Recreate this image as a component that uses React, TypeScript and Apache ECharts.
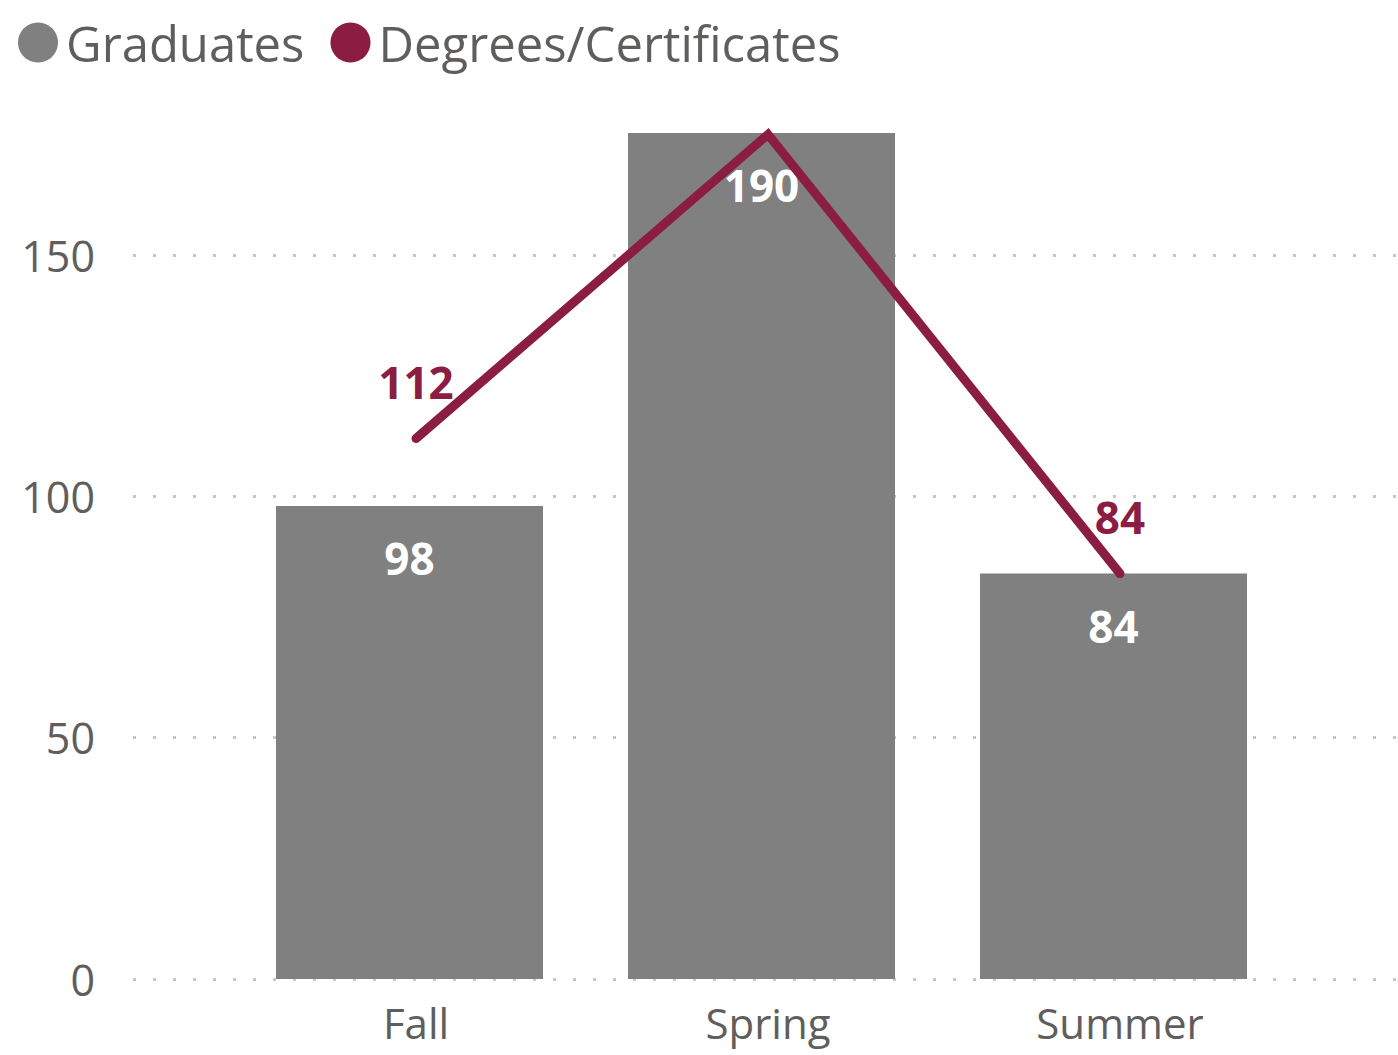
import React, { useEffect, useRef } from "react";
import * as echarts from "echarts";

const categories = ["Fall", "Spring", "Summer"];
const graduates = [98, 190, 84];
const degrees = [112, 175, 84];
const hiddenLineLabels = [false, true, false];
const yMax = 175.3;
const yInterval = 50;

const GREY = "#808080";
const MAROON = "#8A1D41";
const TEXT = "#605E5C";
const FONT = "'Segoe UI', 'Open Sans', sans-serif";

export default function App() {
  const ref = useRef<HTMLDivElement>(null);
  useEffect(() => {
    if (!ref.current) return;
    const chart = echarts.init(ref.current, undefined, { renderer: "svg" });
    const yBase = { min: 0, max: yMax, interval: yInterval };
    chart.setOption({
      animation: false,
      backgroundColor: "#ffffff",
      textStyle: { fontFamily: FONT },
      legend: {
        left: 13,
        top: 13,
        icon: "circle",
        itemWidth: 40,
        itemHeight: 40,
        itemGap: 26,
        textStyle: { fontSize: 49, color: TEXT, fontFamily: FONT, padding: [0, 0, 0, 3] },
        data: [
          { name: "Graduates", itemStyle: { color: GREY } },
          { name: "Degrees/Certificates", itemStyle: { color: MAROON } },
        ],
      },
      grid: [
        { left: 133, right: 0, top: 133, bottom: 76 },
        { left: 233.5, right: 108.5, top: 133, bottom: 76 },
        { left: 240, right: 102, top: 133, bottom: 76 },
      ],
      xAxis: [
        { type: "category", gridIndex: 0, data: categories, show: false },
        { type: "category", gridIndex: 1, data: categories, show: false },
        {
          type: "category",
          gridIndex: 2,
          data: categories,
          axisLine: { show: false },
          axisTick: { show: false },
          axisLabel: { fontSize: 42, color: TEXT, fontFamily: FONT, margin: 22 },
        },
      ],
      yAxis: [
        {
          type: "value",
          gridIndex: 0,
          ...yBase,
          axisLine: { show: false },
          axisTick: { show: false },
          axisLabel: {
            fontSize: 43,
            color: TEXT,
            fontFamily: FONT,
            margin: 38,
            showMaxLabel: false,
            padding: [0, 0, 6, 0],
          },
          splitLine: {
            show: true,
            showMaxLine: false,
            lineStyle: { color: "#c8c8c8", width: 3, type: [3, 17] },
          },
        },
        { type: "value", gridIndex: 1, ...yBase, show: false, splitLine: { show: false } },
        { type: "value", gridIndex: 2, ...yBase, show: false, splitLine: { show: false } },
      ],
      series: [
        {
          name: "Graduates",
          type: "bar",
          xAxisIndex: 1,
          yAxisIndex: 1,
          data: graduates,
          barWidth: 267,
          clip: true,
          itemStyle: { color: GREY },
          label: {
            show: true,
            position: "insideTop",
            distance: 30,
            color: "#ffffff",
            fontWeight: "bold",
            fontSize: 44,
            fontFamily: FONT,
          },
        },
        {
          name: "Degrees/Certificates",
          type: "line",
          xAxisIndex: 2,
          yAxisIndex: 2,
          data: degrees.map((v, i) => ({ value: v, label: { show: !hiddenLineLabels[i] } })),
          symbol: "circle",
          symbolSize: 1,
          showSymbol: true,
          clip: false,
          lineStyle: { color: MAROON, width: 9, cap: "round", join: "miter" },
          itemStyle: { color: MAROON },
          label: {
            show: true,
            position: "top",
            distance: 34,
            color: MAROON,
            fontWeight: "bold",
            fontSize: 44,
            fontFamily: FONT,
          },
        },
      ],
    });
    return () => chart.dispose();
  }, []);
  return (
    <div
      ref={ref}
      style={{ position: "fixed", left: 0, top: 0, width: 1398, height: 1055, background: "#fff" }}
    />
  );
}
